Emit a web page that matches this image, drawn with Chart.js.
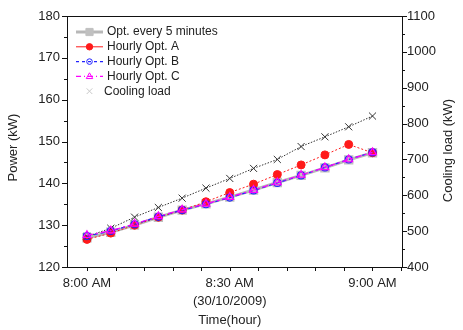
<!DOCTYPE html>
<html>
<head>
<meta charset="utf-8">
<script src="https://cdn.jsdelivr.net/npm/chart.js@4.4.0/dist/chart.umd.min.js"></script>
<style>
  html, body { margin: 0; padding: 0; background: #fff; }
  #wrap { width: 463px; height: 330px; position: relative; }
</style>
</head>
<body>
<div id="wrap"><canvas id="chart1"></canvas></div>
<script>
// minutes after 8:00 AM (30/10/2009)
var minutes = [0, 5, 10, 15, 20, 25, 30, 35, 40, 45, 50, 55, 60];
var xTickValues = [0, 30, 60];
var xTickLabels = [["8:00 AM"], ["8:30 AM", "(30/10/2009)", "Time(hour)"], ["9:00 AM"]];

var opt5min = [127.0, 128.3, 130.0, 131.9, 133.6, 135.1, 136.7, 138.4, 140.2, 141.9, 143.7, 145.6, 147.3];
var hourlyA = [126.6, 128.1, 130.0, 131.9, 133.6, 135.6, 137.8, 139.8, 142.1, 144.4, 146.8, 149.3, 147.3];
var hourlyB = [127.4, 128.6, 130.2, 132.0, 133.6, 135.0, 136.6, 138.3, 140.1, 141.9, 143.8, 145.7, 147.4];
var hourlyC = [127.6, 128.7, 130.3, 132.1, 133.7, 135.1, 136.7, 138.4, 140.2, 142.0, 143.8, 145.7, 147.4];
var coolingLoad = [485, 508, 539, 566, 592, 620, 647, 675, 700, 736, 763, 791, 821];

var powerTicks = [120, 130, 140, 150, 160, 170, 180];
var loadTicks = [400, 500, 600, 700, 800, 900, 1000, 1100];

function pts(ys) {
    return minutes.map(function(m, i) { return {x: m, y: ys[i]}; });
}

var FONT = "'Liberation Sans', Arial, sans-serif";
var TXT = '#222';

// draw small marker for legend
function marker(ctx, style, x, y, r, fill, stroke) {
    ctx.save();
    ctx.fillStyle = fill;
    ctx.strokeStyle = stroke;
    ctx.lineWidth = 1;
    ctx.setLineDash([]);
    ctx.beginPath();
    if (style == 'rect') {
        ctx.rect(x - r, y - r, 2 * r, 2 * r);
    } else if (style == 'circle') {
        ctx.arc(x, y, r, 0, Math.PI * 2);
    } else if (style == 'triangle') {
        ctx.moveTo(x, y - r);
        ctx.lineTo(x + r * 0.9, y + r * 0.6);
        ctx.lineTo(x - r * 0.9, y + r * 0.6);
        ctx.closePath();
    } else if (style == 'crossRot') {
        ctx.moveTo(x - r * 0.7, y - r * 0.7); ctx.lineTo(x + r * 0.7, y + r * 0.7);
        ctx.moveTo(x + r * 0.7, y - r * 0.7); ctx.lineTo(x - r * 0.7, y + r * 0.7);
    }
    if (fill != 'transparent' && style != 'crossRot') ctx.fill();
    ctx.stroke();
    ctx.restore();
}

var framePlugin = {
    id: 'frame',
    afterDraw: function(chart) {
        var ctx = chart.ctx, a = chart.chartArea;
        var sx = chart.scales.x, sy = chart.scales.y, sy2 = chart.scales.y2;
        ctx.save();
        ctx.strokeStyle = '#111';
        ctx.lineWidth = 1;
        ctx.strokeRect(Math.round(a.left) + 0.5, Math.round(a.top) + 0.5,
            Math.round(a.right - a.left), Math.round(a.bottom - a.top));
        ctx.beginPath();
        var v, p, len;
        for (v = 120; v <= 180; v += 5) {
            p = Math.round(sy.getPixelForValue(v)) + 0.5;
            len = v % 10 == 0 ? 5 : 3;
            ctx.moveTo(a.left - len, p); ctx.lineTo(a.left, p);
        }
        for (v = 400; v <= 1100; v += 50) {
            p = Math.round(sy2.getPixelForValue(v)) + 0.5;
            len = v % 100 == 0 ? 5 : 3;
            ctx.moveTo(a.right, p); ctx.lineTo(a.right + len, p);
        }
        for (v = 0; v <= 66; v += 6) {
            p = Math.round(sx.getPixelForValue(v)) + 0.5;
            ctx.moveTo(p, a.bottom); ctx.lineTo(p, a.bottom + 4);
        }
        ctx.stroke();

        // axis titles, both read bottom to top
        ctx.fillStyle = TXT;
        ctx.font = '13px ' + FONT;
        ctx.textAlign = 'center';
        ctx.textBaseline = 'middle';
        var my = (a.top + a.bottom) / 2 + 6;
        ctx.save(); ctx.translate(13, my); ctx.rotate(-Math.PI / 2); ctx.fillText('Power (kW)', 0, 0); ctx.restore();
        ctx.save(); ctx.translate(448, my + 3); ctx.rotate(-Math.PI / 2); ctx.fillText('Cooling load (kW)', 0, 0); ctx.restore();

        // legend inside plot
        var lx = a.left + 9, tx = a.left + 40, ly = a.top + 16;
        ctx.font = '12px ' + FONT;
        ctx.textAlign = 'left';
        chart.data.datasets.forEach(function(ds, i) {
            var y = ly + i * 14.8;
            if (ds.label != 'Cooling load') {
                ctx.save();
                ctx.strokeStyle = ds.borderColor;
                ctx.lineWidth = ds.borderWidth;
                ctx.setLineDash(ds.legendDash || []);
                ctx.beginPath();
                ctx.moveTo(lx, y); ctx.lineTo(lx + 27, y);
                ctx.stroke();
                ctx.restore();
                marker(ctx, ds.pointStyle, lx + 13.5, y, ds.pointRadius * 0.8, ds.pointBackgroundColor, ds.pointBorderColor);
            } else {
                marker(ctx, 'crossRot', lx + 13.5, y, 4, 'transparent', '#c8c8c8');
            }
            ctx.fillStyle = TXT;
            ctx.fillText(ds.label, ds.label == 'Cooling load' ? tx - 3 : tx, y);
        });
        ctx.restore();
    }
};

new Chart("chart1", {
    type: "line",
    data: {
        datasets: [{
            label: "Opt. every 5 minutes",
            data: pts(opt5min),
            borderColor: "#b8b8b8",
            borderWidth: 3,
            pointStyle: 'rect',
            pointRadius: 4.5,
            pointBackgroundColor: '#c0c0c0',
            pointBorderColor: '#c0c0c0',
            order: 6
        }, {
            label: "Hourly Opt. A",
            data: pts(hourlyA),
            borderColor: "#ff1a1a",
            borderWidth: 1,
            borderDash: [2, 2],
            pointStyle: 'circle',
            pointRadius: 4,
            pointBackgroundColor: '#ff1a1a',
            pointBorderColor: '#ff1a1a',
            order: 4
        }, {
            label: "Hourly Opt. B",
            data: pts(hourlyB),
            borderColor: "#2222ff",
            borderWidth: 1.2,
            borderDash: [4, 3],
            legendDash: [3, 3],
            pointStyle: 'circle',
            pointRadius: 3.5,
            pointBackgroundColor: 'transparent',
            pointBorderColor: '#2222ff',
            order: 2
        }, {
            label: "Hourly Opt. C",
            data: pts(hourlyC),
            borderColor: "#ff00ff",
            borderWidth: 1.2,
            borderDash: [6, 3, 2, 3],
            legendDash: [5, 3, 1, 3],
            pointStyle: 'triangle',
            pointRadius: 4.5,
            pointBackgroundColor: 'transparent',
            pointBorderColor: '#ff00ff',
            order: 1
        }, {
            label: "Cooling load",
            data: pts(coolingLoad),
            yAxisID: 'y2',
            borderColor: "#333",
            borderWidth: 1,
            borderDash: [1.5, 1.5],
            pointStyle: 'crossRot',
            pointRadius: 5,
            pointBorderColor: '#333',
            pointBackgroundColor: '#333',
            order: 3
        }]
    },
    options: {
        responsive: true,
        maintainAspectRatio: false,
        animation: false,
        events: [],
        layout: {padding: {top: 16, left: 0, right: 0, bottom: 0}},
        plugins: {legend: {display: false}, tooltip: {enabled: false}},
        scales: {
            x: {
                type: 'linear',
                min: -4.2,
                max: 66.2,
                grid: {display: false, drawTicks: false},
                border: {display: false},
                afterBuildTicks: function(s) { s.ticks = xTickValues.map(function(v) { return {value: v}; }); },
                afterFit: function(s) { s.height = 63; },
                ticks: {
                    padding: 7,
                    maxRotation: 0,
                    autoSkip: false,
                    color: TXT,
                    font: {family: FONT, size: 13, lineHeight: 1.42},
                    callback: function(v) { return xTickLabels[xTickValues.indexOf(v)]; }
                }
            },
            y: {
                position: 'left',
                min: 120,
                max: 180,
                grid: {display: false, drawTicks: false},
                border: {display: false},
                afterBuildTicks: function(s) { s.ticks = powerTicks.map(function(v) { return {value: v}; }); },
                afterFit: function(s) { s.width = 67; },
                ticks: {padding: 7, color: TXT, font: {family: FONT, size: 13}, callback: function(v) { return String(v); }}
            },
            y2: {
                position: 'right',
                min: 400,
                max: 1100,
                grid: {display: false, drawTicks: false},
                border: {display: false},
                afterBuildTicks: function(s) { s.ticks = loadTicks.map(function(v) { return {value: v}; }); },
                afterFit: function(s) { s.width = 61; },
                ticks: {padding: 5, color: TXT, font: {family: FONT, size: 13}, callback: function(v) { return String(v); }}
            }
        }
    },
    plugins: [framePlugin]
});
</script>
</body>
</html>
